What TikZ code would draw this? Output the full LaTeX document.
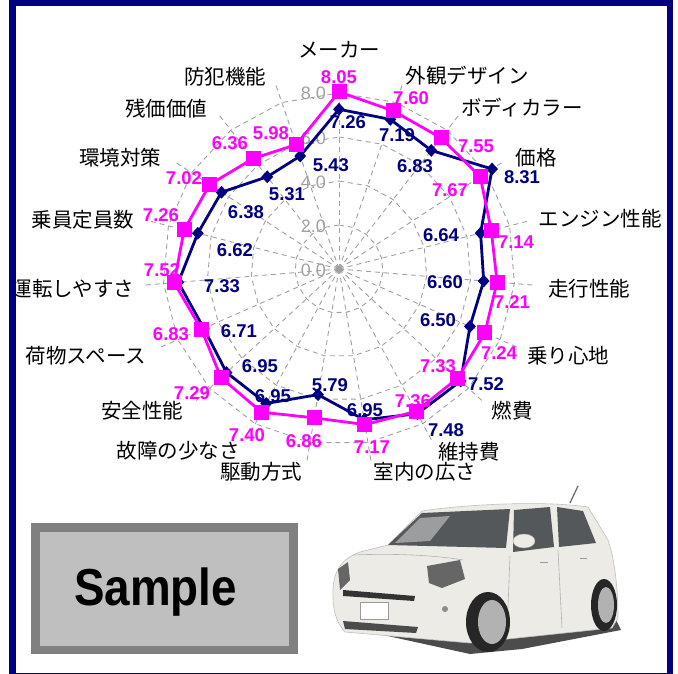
\documentclass[tikz,border=0pt]{standalone}
\usepackage{fontspec}
\setmainfont{Liberation Sans}
\newfontfamily\jp{Noto Sans CJK JP}
\usetikzlibrary{calc,shapes.geometric}
\definecolor{navy}{RGB}{0,0,128}
\definecolor{mag}{RGB}{255,0,255}
\definecolor{gridgray}{RGB}{160,160,160}
\definecolor{carbody}{RGB}{236,235,229}
\definecolor{glass}{RGB}{85,88,90}
\begin{document}
\begin{tikzpicture}[x=1pt,y=-1pt,
  cat/.style={font=\jp\fontsize{20.5}{22}\selectfont, inner sep=0pt, text=black},
  nv/.style={font=\bfseries\fontsize{18.5}{19}\selectfont, text=navy, inner sep=0pt},
  mv/.style={font=\bfseries\fontsize{18.5}{19}\selectfont, text=mag, inner sep=0pt},
  rl/.style={font=\fontsize{18}{19}\selectfont, text=gridgray, inner sep=0pt, anchor=east},
  gridline/.style={draw=gridgray, line width=0.9pt, dash pattern=on 5pt off 4pt},
  navyline/.style={draw=navy, line width=2.8pt, line join=round},
  magline/.style={draw=mag, line width=2.8pt, line join=round},
  diam/.style={diamond, fill=navy, inner sep=0pt, minimum width=12pt, minimum height=13pt},
  sq/.style={rectangle, fill=mag, inner sep=0pt, minimum size=15pt},
  ]
\useasboundingbox (0,0) rectangle (678,674);
\fill[white] (0,0) rectangle (678,674);

\coordinate (C) at (339,269);
% grid
\begin{scope}[shift={(C)}]
  \foreach \i in {0,...,18} \draw[gridline] (0,0) -- ({-90+\i*360/19}:198);
  \foreach \r in {44,88,132,176}
    \draw[gridline] (-90:\r) \foreach \i in {1,...,18}{ -- ({-90+\i*360/19}:\r)} -- cycle;
  \fill[gridgray] (0,0) circle (3.5);
  % data points
  \foreach \v [count=\i from 0] in {7.26,7.19,6.83,8.31,6.64,6.60,6.50,7.52,7.48,6.95,5.79,6.95,6.95,6.71,7.33,6.62,6.38,5.31,5.43}
    \coordinate (n\i) at ({-90+\i*360/19}:{\v*22});
  \foreach \v [count=\i from 0] in {8.05,7.60,7.55,7.67,7.14,7.21,7.24,7.33,7.36,7.17,6.86,7.40,7.29,6.83,7.52,7.26,7.02,6.36,5.98}
    \coordinate (m\i) at ({-90+\i*360/19}:{\v*22});
\end{scope}

% ring labels
\node[rl] (r0) at (326,270) {0.0};
\node[rl] (r2) at (326,226) {2.0};
\node[rl] (r4) at (326,182) {4.0};
\node[rl] (r6) at (326,138) {6.0};
\node[rl] (r8) at (326,93) {8.0};

% navy series
\draw[navyline] (n0) \foreach \i in {1,...,18}{ -- (n\i)} -- cycle;
\foreach \i in {0,...,18} \node[diam] (nk\i) at (n\i) {};
% magenta series
\draw[magline] (m0) \foreach \i in {1,...,18}{ -- (m\i)} -- cycle;
\foreach \i in {0,...,18} \node[sq] (mk\i) at (m\i) {};

% navy value labels
\node[nv] (nl0) at (348,122) {7.26};
\node[nv] (nl1) at (397,135) {7.19};
\node[nv] (nl2) at (415,166) {6.83};
\node[nv] (nl3) at (522,177) {8.31};
\node[nv] (nl4) at (441,235) {6.64};
\node[nv] (nl5) at (445,282) {6.60};
\node[nv] (nl6) at (438,320) {6.50};
\node[nv] (nl7) at (486,384) {7.52};
\node[nv] (nl8) at (446,430) {7.48};
\node[nv] (nl9) at (365,410) {6.95};
\node[nv] (nl10) at (330,385) {5.79};
\node[nv] (nl11) at (273,396) {6.95};
\node[nv] (nl12) at (260,366) {6.95};
\node[nv] (nl13) at (239,331) {6.71};
\node[nv] (nl14) at (222,286) {7.33};
\node[nv] (nl15) at (235,250) {6.62};
\node[nv] (nl16) at (246,212) {6.38};
\node[nv] (nl17) at (287,194) {5.31};
\node[nv] (nl18) at (331,165) {5.43};

% magenta value labels
\node[mv] (ml0) at (339,77) {8.05};
\node[mv] (ml1) at (411,98) {7.60};
\node[mv] (ml2) at (476,146) {7.55};
\node[mv] (ml3) at (450,190) {7.67};
\node[mv] (ml4) at (516,242) {7.14};
\node[mv] (ml5) at (512,302) {7.21};
\node[mv] (ml6) at (499,353) {7.24};
\node[mv] (ml7) at (438,366) {7.33};
\node[mv] (ml8) at (413,401) {7.36};
\node[mv] (ml9) at (372,447) {7.17};
\node[mv] (ml10) at (304,441) {6.86};
\node[mv] (ml11) at (247,435) {7.40};
\node[mv] (ml12) at (192,393) {7.29};
\node[mv] (ml13) at (171,334) {6.83};
\node[mv] (ml14) at (162,270) {7.52};
\node[mv] (ml15) at (161,215) {7.26};
\node[mv] (ml16) at (184,178) {7.02};
\node[mv] (ml17) at (230,143) {6.36};
\node[mv] (ml18) at (271,133) {5.98};

% category labels
\node[cat] (c0) at (339,50) {メーカー};
\node[cat] (c1) at (467,76) {外観デザイン};
\node[cat] (c2) at (522,108) {ボディカラー};
\node[cat] (c3) at (536,158) {価格};
\node[cat] (c4) at (600,219) {エンジン性能};
\node[cat] (c5) at (589,289) {走行性能};
\node[cat] (c6) at (568,356) {乗り心地};
\node[cat] (c7) at (512,411) {燃費};
\node[cat] (c8) at (469,452) {維持費};
\node[cat] (c9) at (425,472) {室内の広さ};
\node[cat] (c10) at (261,472) {駆動方式};
\node[cat] (c11) at (178,451) {故障の少なさ};
\node[cat] (c12) at (142,411) {安全性能};
\node[cat] (c13) at (86,356) {荷物スペース};
\node[cat] (c14) at (73,289) {運転しやすさ};
\node[cat] (c15) at (83,220) {乗員定員数};
\node[cat] (c16) at (120,158) {環境対策};
\node[cat] (c17) at (166,109) {残価価値};
\node[cat] (c18) at (225,77) {防犯機能};

% Sample box
\fill[black!50] (31,523) rectangle (298,654);
\fill[black!25] (40,532) rectangle (289,646);
\node[font=\bfseries\fontsize{52}{52}\selectfont, inner sep=0pt, anchor=base, xscale=0.88] (sample) at (155.5,605) {Sample};

% car (simplified)
\fill[black!70] (342,626) -- (470,654) -- (522,649) -- (621,630) -- (616,620) -- (348,620) -- cycle;
\fill[carbody] (333,598) .. controls (332,575) and (338,560) .. (360,552) -- (388,545) -- (422,511) .. controls (460,505) and (540,500) .. (588,507) -- (608,540) .. controls (615,560) and (618,590) .. (618,618) -- (612,628) -- (470,643) -- (345,632) .. controls (338,625) and (333,612) .. (333,598) -- cycle;
\draw[black!25, line width=0.6pt] (333,598) .. controls (332,575) and (338,560) .. (360,552) -- (388,545) -- (422,511) .. controls (460,505) and (540,500) .. (588,507) -- (608,540) .. controls (615,560) and (618,590) .. (618,618) -- (612,628) -- (470,643) -- (345,632) .. controls (338,625) and (333,612) .. (333,598) -- cycle;
\fill[glass] (388,545) -- (422,513) -- (510,509) -- (506,548) -- cycle;
\fill[black!20, opacity=0.6] (395,543) -- (420,518) -- (450,516) -- (430,541) -- cycle;
\fill[glass] (514,510) -- (550,507) -- (554,547) -- (513,552) -- cycle;
\fill[glass] (557,507) -- (583,511) -- (596,543) -- (559,547) -- cycle;
\draw[black!30, line width=0.6pt] (353,555) .. controls (400,553) and (440,556) .. (463,560);
\draw[black!30, line width=0.6pt] (510,556) -- (507,633);
\draw[black!30, line width=0.6pt] (558,550) -- (562,628);
\draw[black!40, line width=1pt] (540,562) -- (548,562);
\draw[black!40, line width=1pt] (580,558) -- (587,558);
\fill[carbody, draw=black!35] (524,541) ellipse (11 and 7);
\fill[black!60] (427,566) -- (460,560) -- (465,579) -- (442,588) -- (429,583) -- cycle;
\fill[black!60] (338,569) -- (348,562) -- (350,580) -- (340,590) -- cycle;
\fill[black!80] (343,590) -- (415,596) -- (414,601) -- (343,596) -- cycle;
\draw[black!40, fill=white] (360,602) rectangle (388,619);
\fill[black!70] (343,621) -- (418,627) -- (416,633) -- (345,629) -- cycle;
\fill[black!45] (445,609) circle (3);
\fill[black!85] (488,622) ellipse (22 and 30);
\fill[black!30] (492,622) ellipse (14 and 22);
\fill[black!85] (604,605) ellipse (13 and 26);
\fill[black!30] (606,605) ellipse (8 and 18);
\draw[black!60, line width=1.2pt] (570,503) -- (578,486);

% frame
\draw[navy, line width=6.5pt] (12.5,3.2) -- (670,3.2) -- (670,676) -- (12.5,676) -- cycle;
\end{tikzpicture}
\end{document}
